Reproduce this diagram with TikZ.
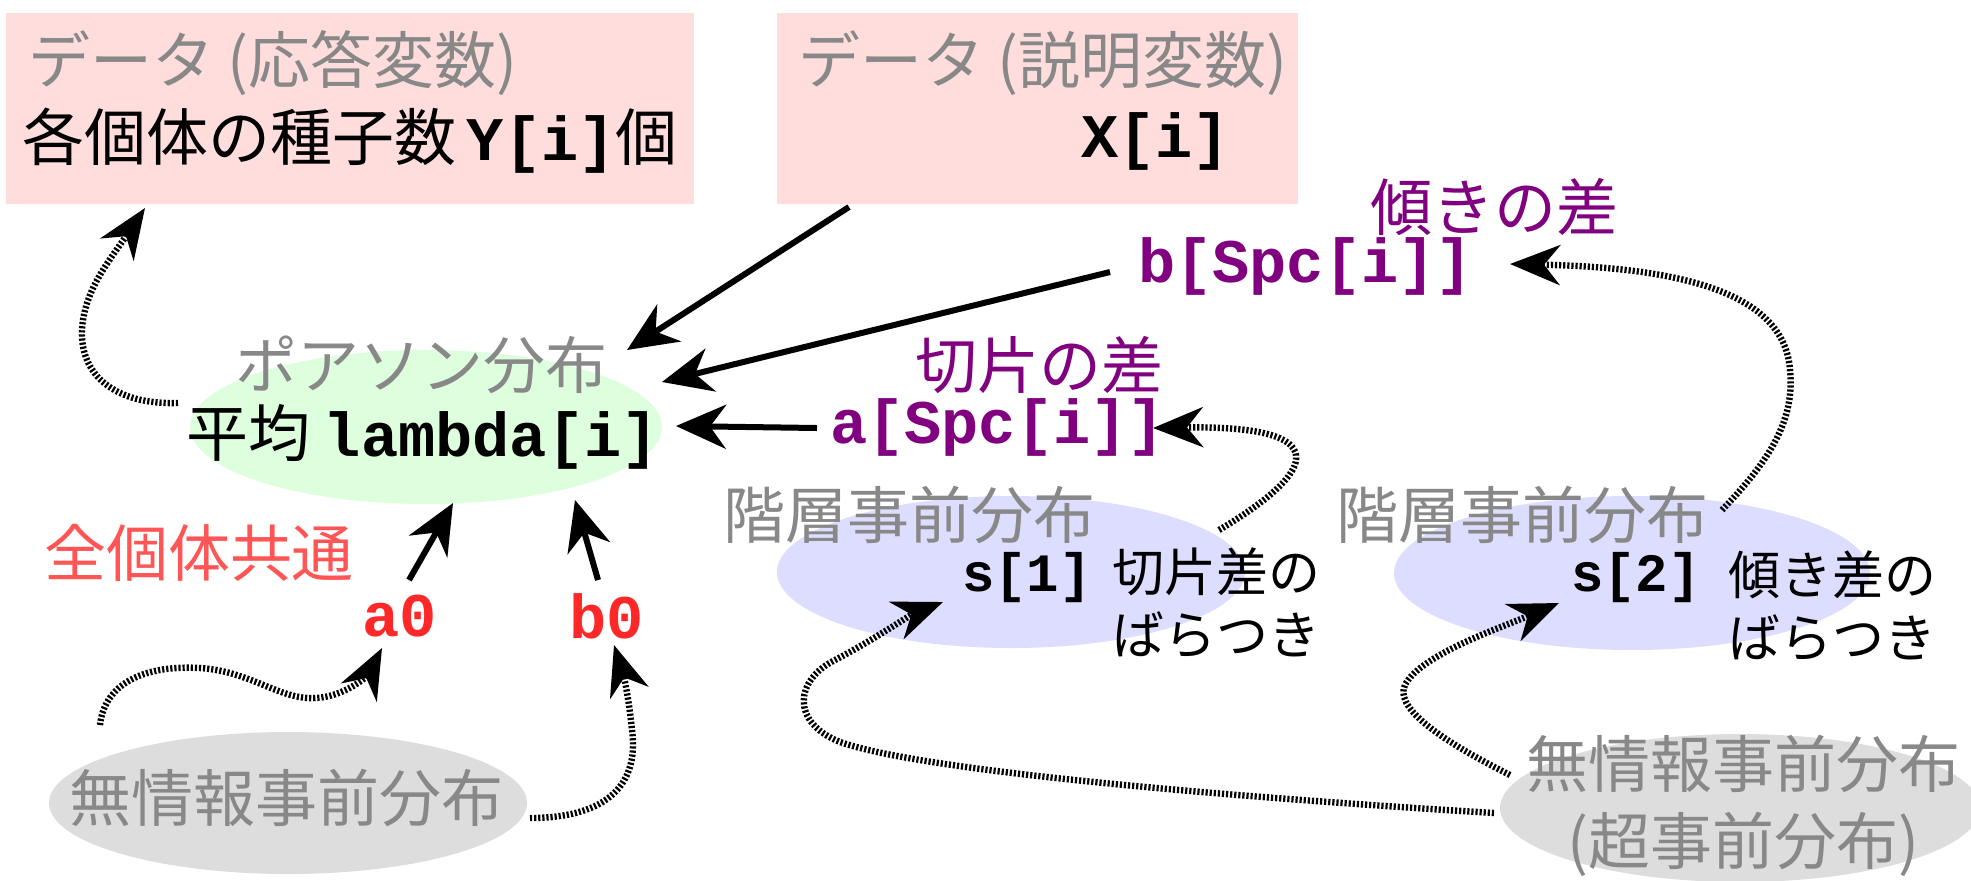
\documentclass[tikz,border=0pt]{standalone}
\usepackage{fontspec}
\setmainfont{Noto Sans CJK JP}
\setmonofont{Liberation Mono}
\usetikzlibrary{arrows.meta,shapes.geometric}
\definecolor{pinkbox}{RGB}{255,221,221}
\definecolor{greenell}{RGB}{221,255,221}
\definecolor{blueell}{RGB}{221,221,255}
\definecolor{grayell}{RGB}{221,221,221}
\definecolor{graytxt}{RGB}{136,136,136}
\definecolor{purp}{RGB}{128,0,128}
\definecolor{redtxt}{RGB}{255,85,85}
\definecolor{redcode}{RGB}{255,40,40}
\newcommand{\cd}[1]{{\ttfamily\bfseries #1}}
\tikzset{
  txt/.style={inner sep=0pt, outer sep=0pt, anchor=west, font=\fontsize{31}{38.5}\selectfont},
  smalltxt/.style={txt, font=\fontsize{26}{31.5}\selectfont},
  boxnode/.style={fill=pinkbox, inner sep=0pt, anchor=north west, minimum height=95.5pt},
  ellnode/.style={ellipse, inner sep=0pt},
  arr/.style={line width=3pt, -{Stealth[length=25pt,width=22pt,inset=8pt]}},
  dotarr/.style={line width=3.2pt, dash pattern=on 1.1pt off 0.95pt, -{Stealth[length=25pt,width=20pt,inset=8pt]}}
}
\begin{document}
\begin{tikzpicture}[x=0.5pt,y=-0.5pt]
\useasboundingbox (0,0) rectangle (1971,880);
\begin{scope}
\clip (0,0) rectangle (1971,880);
% boxes
\node[boxnode, minimum width=344pt] (box1) at (6,13) {};
\node[boxnode, minimum width=260.5pt] (box2) at (777,13) {};
% ellipses
\node[ellnode, fill=greenell, minimum width=236pt, minimum height=77pt] (eg) at (426,427) {};
\node[ellnode, fill=grayell, minimum width=239pt, minimum height=71pt] (eng1) at (288,803) {};
\node[ellnode, fill=blueell, minimum width=234pt, minimum height=76pt] (eb1) at (1011,572) {};
\node[ellnode, fill=blueell, minimum width=238pt, minimum height=77pt] (eb2) at (1632,573) {};
\node[ellnode, fill=grayell, minimum width=240pt, minimum height=74pt] (eng2) at (1740,808) {};
\end{scope}

% texts
\node[txt, text=graytxt] (t1) at (28,63) {データ (応答変数)};
\node[txt] (t2) at (23,141) {各個体の種子数\hspace{5pt}\cd{Y[i]}個};
\node[txt, text=graytxt] (t3) at (798,63) {データ (説明変数)};
\node[txt] (xi) at (1081,141) {\cd{X[i]}};
\node[txt, text=purp] (t5) at (1370,207) {傾きの差};
\node[txt, text=purp] (bspc) at (1138,266) {\cd{b[Spc[i]]}};
\node[txt, text=graytxt] (t7) at (235,365) {ポアソン分布};
\node[txt] (lam) at (186,437) {平均 \cd{lambda[i]}};
\node[txt, text=purp] (t9) at (915,365) {切片の差};
\node[txt, text=purp] (aspc) at (830,427) {\cd{a[Spc[i]]}};
\node[txt, text=redtxt] (t11) at (44,553) {全個体共通};
\node[txt, text=redcode] (a0) at (362,616) {\cd{a0}};
\node[txt, text=redcode] (b0) at (569,616) {\cd{b0}};
\node[txt, text=graytxt] (t14) at (69,798) {無情報事前分布};
\node[txt, text=graytxt] (t15) at (723,515) {階層事前分布};
\node[txt, text=graytxt] (t16) at (1336,515) {階層事前分布};
\node[txt, font=\fontsize{27}{32}\selectfont] (s1) at (962,578) {\cd{s[1]}};
\node[smalltxt, align=right] (t18) at (1112,603) {切片差の\\ばらつき};
\node[txt, font=\fontsize{27}{32}\selectfont] (s2) at (1571,578) {\cd{s[2]}};
\node[smalltxt, align=right] (t20) at (1728,606) {傾き差の\\ばらつき};
\node[txt, anchor=center, align=center, text=graytxt] (t21) at (1743,806) {無情報事前分布\\(超事前分布)};

% connector end points
\coordinate (x1) at (849,207);   \coordinate (l1) at (627,350);
\coordinate (b1) at (1110,272);  \coordinate (l2) at (662,382);
\coordinate (a1) at (817,428);   \coordinate (l3) at (676,426);
\coordinate (a0t) at (409,580);  \coordinate (l4) at (453,503);
\coordinate (b0t) at (598,580);  \coordinate (l5) at (575,500);
\coordinate (gl) at (178,403);   \coordinate (y1) at (145,208);
\coordinate (n1a) at (100,725);  \coordinate (a0b) at (382,648);
\coordinate (n1b) at (530,818);  \coordinate (b0b) at (614,645);
\coordinate (e1t) at (1219,530); \coordinate (aspcr) at (1153,428);
\coordinate (e2t) at (1722,510); \coordinate (bspcr) at (1510,264);
\coordinate (n2a) at (1494,813); \coordinate (s1l) at (943,602);
\coordinate (n2b) at (1510,775); \coordinate (s2l) at (1559,603);

% solid arrows
\draw[arr] (x1) -- (l1);
\draw[arr] (b1) -- (l2);
\draw[arr] (a1) -- (l3);
\draw[arr] (a0t) -- (l4);
\draw[arr] (b0t) -- (l5);

% dotted arrows
\draw[dotarr] (gl) .. controls (115,405) and (80,375) .. (82,330) .. controls (84,290) and (110,260) .. (y1);
\draw[dotarr] (n1a) .. controls (105,680) and (150,665) .. (200,668) .. controls (250,671) and (280,700) .. (315,698) .. controls (345,697) and (368,675) .. (a0b);
\draw[dotarr] (n1b) .. controls (600,818) and (640,790) .. (632,730) .. controls (628,690) and (622,670) .. (b0b);
\draw[dotarr] (e1t) .. controls (1320,470) and (1335,425) .. (aspcr);
\draw[dotarr] (e2t) .. controls (1770,460) and (1795,420) .. (1790,370) .. controls (1785,300) and (1700,268) .. (bspcr);
\draw[dotarr] (n2a) .. controls (1200,795) and (920,770) .. (840,742) .. controls (790,722) and (795,680) .. (835,660) .. controls (870,642) and (910,615) .. (s1l);
\draw[dotarr] (n2b) .. controls (1430,735) and (1395,705) .. (1405,685) .. controls (1420,655) and (1500,628) .. (s2l);
\end{tikzpicture}
\end{document}
